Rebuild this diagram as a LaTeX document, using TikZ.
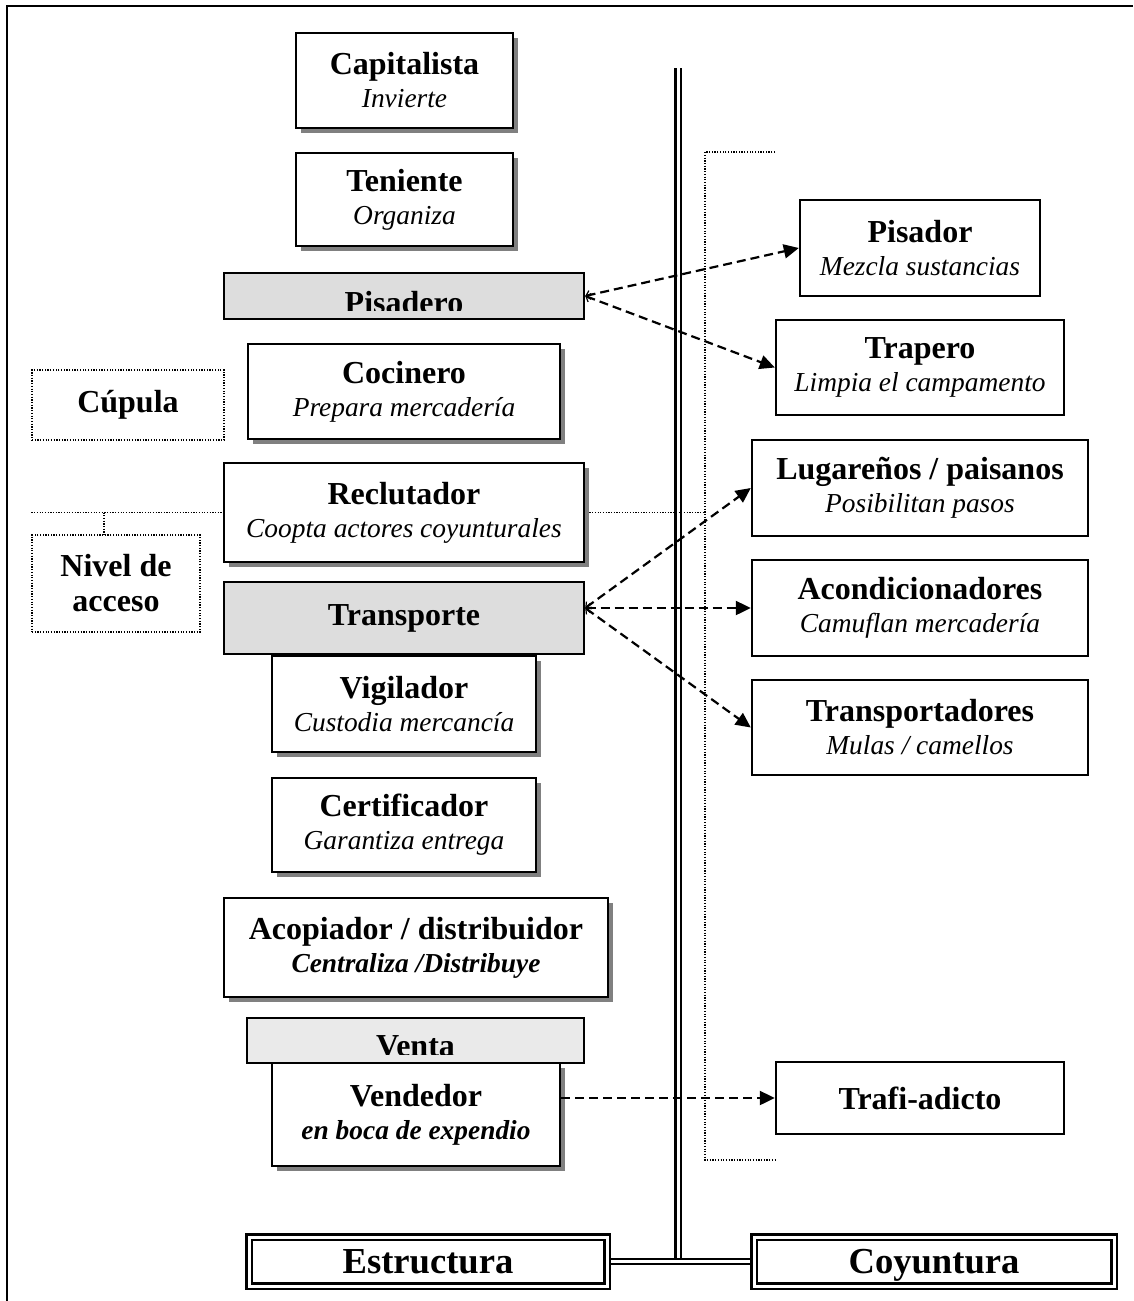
\documentclass[tikz,border=0pt]{standalone}
\usepackage{fontspec}
\setmainfont{Liberation Serif}
\usetikzlibrary{arrows.meta,positioning,calc,shadows}
\definecolor{GrisCabecera}{HTML}{DDDDDD}
\definecolor{GrisVenta}{HTML}{EAEAEA}
\definecolor{GrisSombra}{HTML}{808080}
\newcommand{\rotulo}[1]{{\bfseries\fontsize{32}{33}\selectfont #1}}
\newcommand{\detalle}[1]{{\itshape #1}}
\tikzset{
  rol/.style       = {draw, line width=2.4pt, fill=white, align=center, inner sep=0pt,
                      font=\fontsize{27.4}{33}\selectfont,
                      drop shadow={shadow xshift=5pt, shadow yshift=-5pt,
                                   fill=GrisSombra, opacity=1}},
  externo/.style   = {draw, line width=2.4pt, fill=white, align=center, inner sep=0pt,
                      font=\fontsize{27.4}{33}\selectfont},
  cabecera/.style  = {draw, line width=2.4pt, fill=GrisCabecera, inner sep=0pt},
  cabtxt/.style    = {font=\bfseries\fontsize{32}{33}\selectfont, inner sep=0pt},
  nivel/.style     = {draw, line width=1.2pt, dash pattern=on 1.2pt off 1.5pt, align=center,
                      inner sep=0pt, font=\bfseries\fontsize{32}{35}\selectfont},
  eje/.style       = {draw, double, line width=2.6pt, double distance=3pt, fill=white,
                      inner sep=0pt, text height=24pt, text depth=0pt,
                      font=\bfseries\fontsize{36.6}{40}\selectfont},
  doble/.style     = {double, line width=2.2pt, double distance=3pt},
  doblefina/.style = {double, line width=1.8pt, double distance=3pt},
  punteado/.style  = {line width=1.2pt, dash pattern=on 1.2pt off 1.5pt},
  flecha/.style    = {{Straight Barb[length=4pt,width=9pt,line width=1.2pt]}-{Triangle[length=15pt,width=14pt]},
                      line width=2.2pt, dash pattern=on 9pt off 5pt},
  flechav/.style   = {-{Triangle[length=15pt,width=14pt]},
                      line width=2.2pt, dash pattern=on 9pt off 5pt},
}
\begin{document}
\begin{tikzpicture}[x=1pt,y=-1pt]
  \useasboundingbox (0,0) rectangle (1133,1301);
  % marco
  \draw[line width=2.5pt] (7,1301) -- (7,6) -- (1133,6);

  % eje central y corchete
  \coordinate (ejeA) at (678,68);
  \coordinate (ejeB) at (678,1259);
  \draw[doble] (ejeA) -- (ejeB);
  \coordinate (corA) at (775,152);
  \coordinate (corB) at (775,1160);
  \draw[punteado] (corA) -- (705,152) -- (705,1160) -- (corB);

  % niveles
  \node[nivel, minimum width=192pt, minimum height=70pt] (cupula) at (128,405) {Cúpula};
  \node[nivel, minimum width=168pt, minimum height=97pt] (acceso) at (116,583.5) {Nivel de\\acceso};

  % estructura
  \node[rol, minimum width=217pt, minimum height=95pt] (cap) at (404.5,80.5)
    {\rotulo{Capitalista}\\\detalle{Invierte}};
  \node[rol, minimum width=217pt, minimum height=93pt] (ten) at (404.5,199.5)
    {\rotulo{Teniente}\\\detalle{Organiza}};
  \node[cabecera, minimum width=360pt, minimum height=46pt] (pisadero) at (404,296) {};
  \begin{scope}
    \clip (pisadero.north west) rectangle ([yshift=10pt]pisadero.south east);
    \node[cabtxt, anchor=base] (pisaderotxt) at (404,313) {Pisadero};
  \end{scope}
  \node[rol, minimum width=312pt, minimum height=95pt] (coc) at (404,391.5)
    {\rotulo{Cocinero}\\\detalle{Prepara mercadería}};

  \coordinate (enlace) at (104,512.5);
  \draw[punteado] (cupula.west |- enlace) -- (224,512.5);
  \draw[punteado] (584,512.5) -- (705,512.5);
  \draw[punteado] (enlace) -- (enlace |- acceso.north);

  \node[rol, minimum width=360pt, minimum height=99pt] (recl) at (404,512.5)
    {\rotulo{Reclutador}\\\detalle{Coopta actores coyunturales}};
  \node[rol, minimum width=264pt, minimum height=96pt] (vig) at (404,704)
    {\rotulo{Vigilador}\\\detalle{Custodia mercancía}};
  \node[cabecera, minimum width=360pt, minimum height=72pt, font=\bfseries\fontsize{32}{33}\selectfont] (transp) at (404,618)
    {Transporte};
  \node[rol, minimum width=264pt, minimum height=94pt] (cert) at (404,825)
    {\rotulo{Certificador}\\\detalle{Garantiza entrega}};
  \node[rol, minimum width=384pt, minimum height=99pt] (acop) at (416,947.5)
    {\rotulo{Acopiador / distribuidor}\\{\bfseries\itshape Centraliza /Distribuye}};
  \node[rol, minimum width=288pt, minimum height=103pt] (vend) at (416,1114.5)
    {\rotulo{Vendedor}\\{\bfseries\itshape en boca de expendio}};
  \node[cabecera, fill=GrisVenta, minimum width=337pt, minimum height=45pt] (venta) at (415.5,1040.5) {};
  \begin{scope}
    \clip (venta.north west) rectangle ([yshift=10pt]venta.south east);
    \node[cabtxt, anchor=base] (ventatxt) at (415.5,1056) {Venta};
  \end{scope}

  % coyuntura
  \node[externo, minimum width=240pt, minimum height=96pt] (pisador) at (920,248)
    {\rotulo{Pisador}\\\detalle{Mezcla sustancias}};
  \node[externo, minimum width=288pt, minimum height=95pt] (trapero) at (920,367.5)
    {\rotulo{Trapero}\\\detalle{Limpia el campamento}};
  \node[externo, minimum width=336pt, minimum height=96pt] (lug) at (920,488)
    {\rotulo{Lugareños / paisanos}\\\detalle{Posibilitan pasos}};
  \node[externo, minimum width=336pt, minimum height=96pt] (acond) at (920,608)
    {\rotulo{Acondicionadores}\\\detalle{Camuflan mercadería}};
  \node[externo, minimum width=336pt, minimum height=95pt] (transpd) at (920,727.5)
    {\rotulo{Transportadores}\\\detalle{Mulas / camellos}};
  \node[externo, minimum width=288pt, minimum height=72pt] (trafi) at (920,1098)
    {\rotulo{Trafi-adicto}};

  % ejes inferiores
  \node[eje, minimum width=358pt, minimum height=49pt] (estr) at (428,1261.5) {Estructura};
  \node[eje, minimum width=360pt, minimum height=49pt] (coy) at (934,1261.5) {Coyuntura};
  \draw[doblefina, shorten <=3pt, shorten >=3pt] (estr.east) -- (coy.west);

  % flechas
  \draw[flecha] (pisadero.east) -- (pisador.west);
  \draw[flecha] (pisadero.east) -- (trapero.west);
  \draw[flecha] (transp.east |- acond.west) -- (lug.west);
  \draw[flecha] (transp.east |- acond.west) -- (acond.west);
  \draw[flecha] (transp.east |- acond.west) -- (transpd.west);
  \draw[flechav] (vend.east |- trafi.west) -- (trafi.west);
\end{tikzpicture}
\end{document}
